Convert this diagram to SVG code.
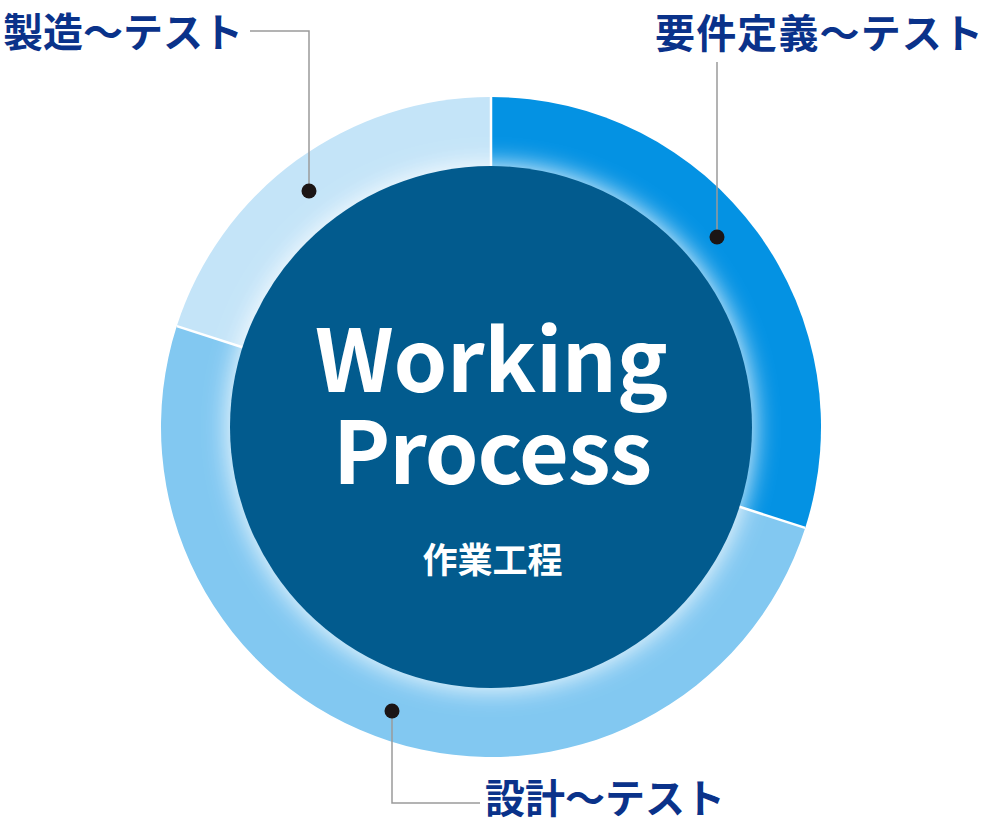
<svg xmlns="http://www.w3.org/2000/svg" width="988" height="822" viewBox="0 0 988 822">
  <style>
    .lbl { font-family: "Noto Sans CJK JP", "Noto Sans", sans-serif; font-weight: 700; fill: #0a328a; font-size: 40px; }
    .ctr { font-family: "Noto Sans CJK JP", "Noto Sans", sans-serif; font-weight: 700; fill: #ffffff; text-anchor: middle; }
    .lead { fill: none; stroke: #9a9a9a; stroke-width: 1.5; }
    .dot { fill: #1b1515; }
    .sep { stroke: #ffffff; stroke-width: 2.5; }
  </style>
  <defs>
    <filter id="glow" x="-30%" y="-30%" width="160%" height="160%">
      <feGaussianBlur stdDeviation="13"/>
    </filter>
  </defs>
  <rect width="988" height="822" fill="#ffffff"/>

  <g id="ring">
    <path id="seg-requirements" d="M491,427 L491,97 A330,330 0 0 1 805.2,527.9 Z" fill="#0492e3"/>
    <path id="seg-design" d="M491,427 L805.2,527.9 A330,330 0 0 1 390.1,741.2 A330,330 0 0 1 176.8,326.1 Z" fill="#82c8f1"/>
    <path id="seg-build" d="M491,427 L176.8,326.1 A330,330 0 0 1 491,97 Z" fill="#c4e4f8"/>
    <circle cx="491" cy="427" r="262" fill="#ffffff" filter="url(#glow)" opacity="0.95"/>
    <line class="sep" x1="491" y1="97" x2="491" y2="200"/>
    <line class="sep" x1="805.2" y1="527.9" x2="700" y2="494"/>
    <line class="sep" x1="176.8" y1="326.1" x2="282" y2="360"/>
  </g>

  <g id="center">
    <circle cx="491" cy="427" r="261" fill="#025b8e"/>
    <text class="ctr" x="491.5" y="392" font-size="86" textLength="353">Working</text>
    <text class="ctr" x="492.5" y="484" font-size="86" textLength="319">Process</text>
    <text class="ctr" x="492.5" y="573" font-size="35">作業工程</text>
  </g>

  <g id="connectors">
    <polyline class="lead" points="250,31 309,31 309,191"/>
    <line class="lead" x1="717" y1="62" x2="717" y2="237"/>
    <polyline class="lead" points="392,711 392,803 480,803"/>
    <circle class="dot" cx="309" cy="191" r="7.5"/>
    <circle class="dot" cx="717" cy="237" r="7.5"/>
    <circle class="dot" cx="392" cy="711" r="7.5"/>
  </g>

  <g id="label-build">
    <text class="lbl" x="3" y="47">製造〜テスト</text>
  </g>
  <g id="label-requirements">
    <text class="lbl" x="655" y="48" font-size="42" textLength="328">要件定義〜テスト</text>
  </g>
  <g id="label-design">
    <text class="lbl" x="485" y="813" textLength="240">設計〜テスト</text>
  </g>
</svg>
